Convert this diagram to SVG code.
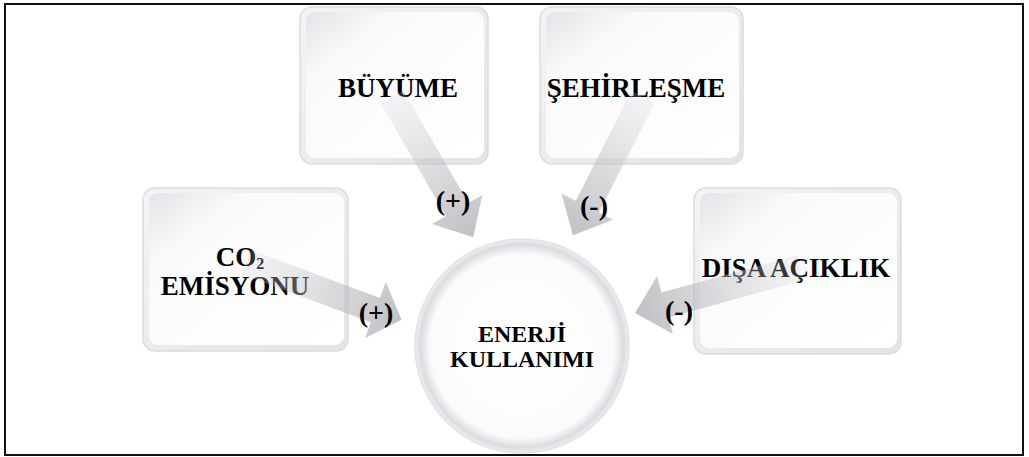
<svg xmlns="http://www.w3.org/2000/svg" width="1029" height="457" viewBox="0 0 1029 457">
<defs>
<linearGradient id="boxOuter" x1="0" y1="0" x2="1" y2="1">
<stop offset="0" stop-color="#f4f4f7"/>
<stop offset="1" stop-color="#e4e4e8"/>
</linearGradient>
<linearGradient id="boxInner" x1="0" y1="0" x2="1" y2="1">
<stop offset="0" stop-color="#e4e4e8"/>
<stop offset="0.25" stop-color="#fafafc"/>
<stop offset="1" stop-color="#ffffff"/>
</linearGradient>
<radialGradient id="circ" cx="0.5" cy="0.5" r="0.5">
<stop offset="0" stop-color="#ffffff"/>
<stop offset="0.86" stop-color="#fbfbfd"/>
<stop offset="0.95" stop-color="#dcdce0"/>
<stop offset="1" stop-color="#f0f0f3"/>
</radialGradient>
<linearGradient id="arrowG" x1="0" y1="0" x2="1" y2="0">
<stop offset="0" stop-color="#d0d0d4" stop-opacity="0.2"/>
<stop offset="0.55" stop-color="#bdbdc2" stop-opacity="0.55"/>
<stop offset="1" stop-color="#b0b0b6" stop-opacity="0.8"/>
</linearGradient>
</defs>
<style>
.box{fill:url(#boxOuter);stroke:#dcdce0;stroke-width:1.5}
.face{fill:url(#boxInner)}
.lbl{font-family:"Liberation Serif","Times New Roman",serif;font-weight:bold;fill:#000;text-anchor:middle}
.sgn{font-family:"Liberation Serif","Times New Roman",serif;font-weight:bold;fill:#000;font-size:28px;text-anchor:middle}
.arrow{fill:url(#arrowG)}
</style>
<rect x="0" y="0" width="1029" height="457" fill="#ffffff"/>
<rect x="5" y="4" width="1018" height="451" fill="none" stroke="#111" stroke-width="2"/>

<g id="node-buyume">
<rect class="box" x="300" y="7" width="188" height="157" rx="12"/>
<rect class="face" x="306" y="12" width="178" height="146" rx="9"/>
<text class="lbl" x="398" y="97" font-size="27">BÜYÜME</text>
</g>
<g id="node-sehirlesme">
<rect class="box" x="540" y="7" width="203" height="157" rx="12"/>
<rect class="face" x="546" y="12" width="193" height="146" rx="9"/>
<text class="lbl" x="636" y="97" font-size="27">ŞEHİRLEŞME</text>
</g>
<g id="node-co2">
<rect class="box" x="143" y="188" width="205" height="163" rx="12"/>
<rect class="face" x="149" y="193" width="195" height="152" rx="9"/>
<text class="lbl" font-size="27"><tspan x="240" y="266">CO<tspan font-size="16" dy="3">2</tspan></tspan><tspan x="235" y="295">EMİSYONU</tspan></text>
</g>
<g id="node-disa">
<rect class="box" x="694" y="188" width="207" height="166" rx="12"/>
<rect class="face" x="700" y="193" width="197" height="155" rx="9"/>
<text class="lbl" x="796" y="277" font-size="27">DIŞA AÇIKLIK</text>
</g>
<g id="node-enerji">
<circle cx="522" cy="346" r="107" fill="url(#circ)" stroke="#e2e2e6" stroke-width="1.5"/>
<text class="lbl" font-size="24"><tspan x="522" y="342">ENERJİ</tspan><tspan x="522" y="367">KULLANIMI</tspan></text>
</g>

<g id="connectors">
<path class="arrow" transform="translate(392,97) rotate(59.9)" d="M0,-13 L130,-13 L130,-29 L162,0 L130,29 L130,13 L0,13 Z"/>
<path class="arrow" transform="translate(643,97) rotate(116.9)" d="M0,-13 L123,-13 L123,-29 L155,0 L123,29 L123,13 L0,13 Z"/>
<path class="arrow" transform="translate(246,262) rotate(20.4)" d="M0,-13 L138,-13 L138,-30 L166,0 L138,30 L138,13 L0,13 Z"/>
<path class="arrow" transform="translate(800,268) rotate(164.7)" d="M0,-13 L140,-13 L140,-30 L171,0 L140,30 L140,13 L0,13 Z"/>
<text class="sgn" x="453" y="210">(+)</text>
<text class="sgn" x="594" y="215">(-)</text>
<text class="sgn" x="376" y="322">(+)</text>
<text class="sgn" x="679" y="320">(-)</text>
</g>
</svg>
